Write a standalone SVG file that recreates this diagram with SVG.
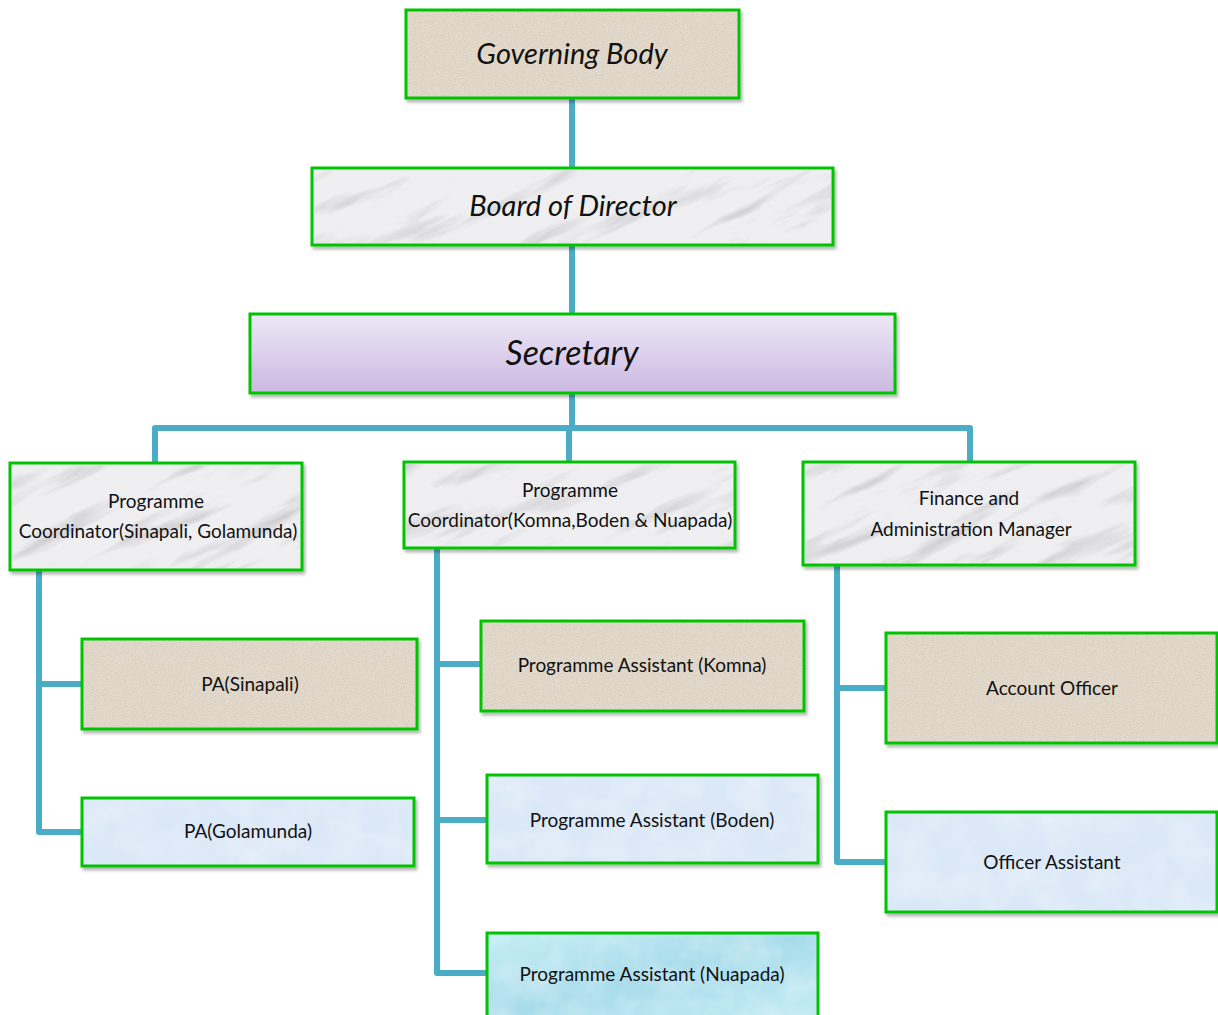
<svg xmlns="http://www.w3.org/2000/svg" width="1218" height="1015" viewBox="0 0 1218 1015">
<style>
.box{stroke:#00c400;stroke-width:3;}
.t{font-family:Lato,"Liberation Sans",sans-serif;font-size:19px;fill:#111;text-anchor:middle;}
.ti{font-family:Lato,"Liberation Sans",sans-serif;font-style:italic;fill:#111;text-anchor:middle;}
.con{fill:none;stroke:#4bacc6;stroke-width:6;stroke-linejoin:round;stroke-linecap:butt;}
.mb{fill:url(#marblePat);}
</style>
<defs>
<filter id="sh" x="-5%" y="-5%" width="110%" height="120%">
<feDropShadow dx="2" dy="3" stdDeviation="1.5" flood-color="#000" flood-opacity="0.28"/>
</filter>
<filter id="noise" x="0" y="0" width="100%" height="100%">
<feTurbulence type="fractalNoise" baseFrequency="0.9" numOctaves="2" seed="3" result="n"/>
<feColorMatrix type="matrix" values="0 0 0 0 0.45  0 0 0 0 0.42  0 0 0 0 0.38  0 0 0 -2.2 1.25" />
</filter>
<filter id="marble" x="0" y="0" width="100%" height="100%">
<feTurbulence type="fractalNoise" baseFrequency="0.008 0.045" numOctaves="4" seed="7" stitchTiles="stitch"/>
<feColorMatrix type="matrix" values="0 0 0 0 0.38  0 0 0 0 0.38  0 0 0 0 0.4  -2.6 0 0 0 1.2"/>
</filter>
<pattern id="marblePat" patternUnits="userSpaceOnUse" width="600" height="300" patternTransform="rotate(-25)">
<rect width="600" height="300" fill="#000" filter="url(#marble)"/>
</pattern>
<filter id="water" x="0" y="0" width="100%" height="100%">
<feTurbulence type="fractalNoise" baseFrequency="0.03" numOctaves="3" seed="11"/>
<feColorMatrix type="matrix" values="0 0 0 0 1  0 0 0 0 1  0 0 0 0 1  1.2 0 0 0 -0.45"/>
</filter>
<linearGradient id="purp" x1="0" y1="0" x2="0" y2="1">
<stop offset="0" stop-color="#eee8f6"/>
<stop offset="1" stop-color="#cbb8e2"/>
</linearGradient>
<linearGradient id="aqua" x1="0" y1="0" x2="1" y2="1">
<stop offset="0" stop-color="#c6eef5"/>
<stop offset="0.5" stop-color="#a9dceb"/>
<stop offset="1" stop-color="#c2ecf4"/>
</linearGradient>
</defs>
<rect width="1218" height="1015" fill="#fff"/>

<g id="connectors">
<path class="con" d="M572,98 V168"/>
<path class="con" d="M572,245 V314"/>
<path class="con" d="M572,393 V428"/>
<path class="con" d="M155,463 V428 H970 V463"/>
<path class="con" d="M569,428 V463"/>
<path class="con" d="M39,570 V832 H82"/>
<path class="con" d="M39,684 H82"/>
<path class="con" d="M437,548 V973 H487"/>
<path class="con" d="M437,664 H481"/>
<path class="con" d="M437,820 H487"/>
<path class="con" d="M837,565 V862 H886"/>
<path class="con" d="M837,688 H886"/>
</g>

<g id="governing-body">
<rect x="406" y="10" width="333" height="88" fill="#e3dacb" class="box" filter="url(#sh)"/>
<rect x="408" y="12" width="329" height="84" fill="#000" filter="url(#noise)" opacity="0.35"/>
<text class="ti" x="572" y="64" font-size="29">Governing Body</text>
</g>

<g id="board-of-director">
<rect x="312" y="168" width="521" height="77" fill="#efeff1" class="box" filter="url(#sh)"/>
<rect x="314" y="170" width="517" height="73" class="mb" opacity="0.6"/>
<text class="ti" x="573" y="216" font-size="29">Board of Director</text>
</g>

<g id="secretary">
<rect x="250" y="314" width="645" height="79" fill="url(#purp)" class="box" filter="url(#sh)"/>
<text class="ti" x="572" y="365" font-size="34">Secretary</text>
</g>

<g id="pc-sinapali">
<rect x="10" y="463" width="292" height="107" fill="#efeff1" class="box" filter="url(#sh)"/>
<rect x="12" y="465" width="288" height="103" class="mb" opacity="0.6"/>
<text class="t" x="156" y="508">Programme</text>
<text class="t" x="158" y="538">Coordinator(Sinapali, Golamunda)</text>
</g>

<g id="pc-komna">
<rect x="404" y="462" width="331" height="86" fill="#efeff1" class="box" filter="url(#sh)"/>
<rect x="406" y="464" width="327" height="82" class="mb" opacity="0.6"/>
<text class="t" x="570" y="497">Programme</text>
<text class="t" x="570" y="527">Coordinator(Komna,Boden &amp; Nuapada)</text>
</g>

<g id="finance-admin">
<rect x="803" y="462" width="332" height="103" fill="#efeff1" class="box" filter="url(#sh)"/>
<rect x="805" y="464" width="328" height="99" class="mb" opacity="0.6"/>
<text class="t" x="969" y="505">Finance and</text>
<text class="t" x="971" y="536">Administration Manager</text>
</g>

<g id="pa-sinapali">
<rect x="82" y="639" width="335" height="90" fill="#e3dacb" class="box" filter="url(#sh)"/>
<rect x="84" y="641" width="331" height="86" fill="#000" filter="url(#noise)" opacity="0.35"/>
<text class="t" x="250" y="691">PA(Sinapali)</text>
</g>

<g id="pa-golamunda">
<rect x="82" y="798" width="332" height="68" fill="#dbe8f7" class="box" filter="url(#sh)"/>
<rect x="84" y="800" width="328" height="64" fill="#000" filter="url(#water)" opacity="0.5"/>
<text class="t" x="248" y="838">PA(Golamunda)</text>
</g>

<g id="pa-komna">
<rect x="481" y="621" width="323" height="90" fill="#e3dacb" class="box" filter="url(#sh)"/>
<rect x="483" y="623" width="319" height="86" fill="#000" filter="url(#noise)" opacity="0.35"/>
<text class="t" x="642" y="672">Programme Assistant (Komna)</text>
</g>

<g id="pa-boden">
<rect x="487" y="775" width="331" height="88" fill="#dbe8f7" class="box" filter="url(#sh)"/>
<rect x="489" y="777" width="327" height="84" fill="#000" filter="url(#water)" opacity="0.5"/>
<text class="t" x="652" y="827">Programme Assistant (Boden)</text>
</g>

<g id="pa-nuapada">
<rect x="487" y="933" width="331" height="86" fill="url(#aqua)" class="box"/>
<rect x="489" y="935" width="327" height="80" fill="#000" filter="url(#water)" opacity="0.5"/>
<text class="t" x="652" y="981">Programme Assistant (Nuapada)</text>
</g>

<g id="account-officer">
<rect x="886" y="633" width="331" height="110" fill="#e3dacb" class="box" filter="url(#sh)"/>
<rect x="888" y="635" width="327" height="106" fill="#000" filter="url(#noise)" opacity="0.35"/>
<text class="t" x="1052" y="695">Account Officer</text>
</g>

<g id="officer-assistant">
<rect x="886" y="812" width="331" height="100" fill="#dbe8f7" class="box" filter="url(#sh)"/>
<rect x="888" y="814" width="327" height="96" fill="#000" filter="url(#water)" opacity="0.5"/>
<text class="t" x="1052" y="869">Officer Assistant</text>
</g>
</svg>
